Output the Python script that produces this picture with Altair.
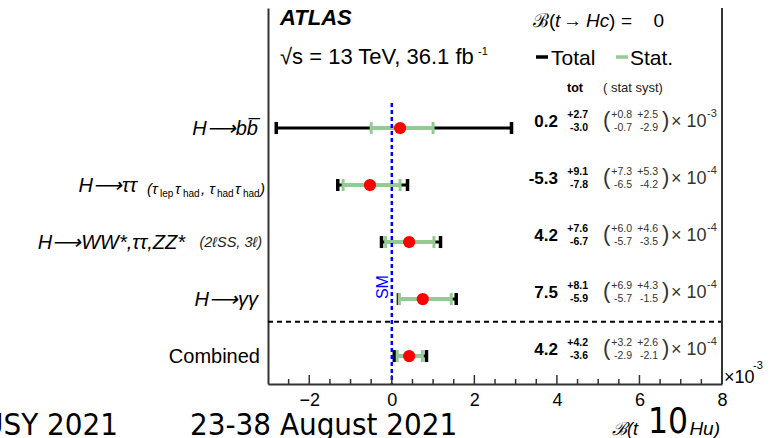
import altair as alt
import pandas as pd

# Measured B(t -> Hu) per channel: value and uncertainties in units of 10^exponent
channels = ["H->bb", "H->tautau", "H->WW,tautau,ZZ", "H->gammagamma", "Combined"]
central = [0.2, -5.3, 4.2, 7.5, 4.2]
tot_up = [2.7, 9.1, 7.6, 8.1, 4.2]
tot_dn = [3.0, 7.8, 6.7, 5.9, 3.6]
stat_up = [0.8, 7.3, 6.0, 6.9, 3.2]
stat_dn = [0.7, 6.5, 5.7, 5.7, 2.9]
syst_up = [2.5, 5.3, 4.6, 4.3, 2.6]
syst_dn = [2.9, 4.2, 3.5, 1.5, 2.1]
exponent = [-3, -4, -4, -4, -4]

# x axis in units of 10^-3
x_domain = [-3, 8]
x_major = [-2, 0, 2, 4, 6, 8]
x_minor = [-2.5, -1.5, -1, -0.5, 0.5, 1, 1.5, 2.5, 3, 3.5, 4.5, 5, 5.5, 6.5, 7, 7.5]
sm_prediction = [0.0]

# vertical layout in row units (row 0 at top), header space above row 0
y_domain = [-2.105, 4.49]
sm_line_top = -0.44
separator_row = 3.4
sm_label_row = 2.79

FONT = "Liberation Sans"
SLIDE_FONT = "DejaVu Sans Condensed, DejaVu Sans"
GREEN = "#94cb94"
FRAME = "#333333"
GREY = "#333333"
W, H = 454, 376
ARROW = "\u27f6"

rows = list(range(len(channels)))
k = [10.0 ** (e + 3) for e in exponent]
df = pd.DataFrame({
    "row": rows,
    "x": [c * s for c, s in zip(central, k)],
    "tot_lo": [(c - d) * s for c, d, s in zip(central, tot_dn, k)],
    "tot_hi": [(c + u) * s for c, u, s in zip(central, tot_up, k)],
    "stat_lo": [(c - d) * s for c, d, s in zip(central, stat_dn, k)],
    "stat_hi": [(c + u) * s for c, u, s in zip(central, stat_up, k)],
    "c_txt": [f"{c:.1f}" for c in central],
    "tu_txt": [f"+{v:.1f}" for v in tot_up],
    "td_txt": [f"-{v:.1f}" for v in tot_dn],
    "su_txt": [f"+{v:.1f}" for v in stat_up],
    "sd_txt": [f"-{v:.1f}" for v in stat_dn],
    "yu_txt": [f"+{v:.1f}" for v in syst_up],
    "yd_txt": [f"-{v:.1f}" for v in syst_dn],
    "exp_txt": [f"-{-e}" for e in exponent],
    "paren_l": ["("] * len(rows),
    "paren_r": [")"] * len(rows),
    "times": ["\u00d7 10"] * len(rows),
})

xs = alt.Scale(domain=x_domain, nice=False, zero=False)
ys = alt.Scale(domain=y_domain, reverse=True, nice=False, zero=False)
x_axis = alt.Axis(values=x_major, grid=False, ticks=False, tickSize=0, title=None,
                  labelFont=FONT, labelFontSize=18, labelColor="black",
                  labelBaseline="alphabetic", labelPadding=21, labelFlush=False,
                  labelOverlap=False, domainColor=FRAME, domainWidth=2)
y_axis = alt.Axis(labels=False, ticks=False, grid=False, title=None,
                  domainColor=FRAME, domainWidth=2)


def X(field):
    return alt.X(f"{field}:Q", scale=xs, axis=x_axis)


def Y(field):
    return alt.Y(f"{field}:Q", scale=ys, axis=y_axis)


base = alt.Chart(df)

# error bars: total (black) under statistical (green)
tot_bar = base.mark_rule(color="black", strokeWidth=3).encode(x=X("tot_lo"), x2="tot_hi", y=Y("row"))
tot_cap_lo = base.mark_tick(orient="vertical", color="black", size=12, thickness=3.5, opacity=1).encode(x=X("tot_lo"), y=Y("row"))
tot_cap_hi = base.mark_tick(orient="vertical", color="black", size=12, thickness=3.5, opacity=1).encode(x=X("tot_hi"), y=Y("row"))
stat_bar = base.mark_rule(color=GREEN, strokeWidth=4).encode(x=X("stat_lo"), x2="stat_hi", y=Y("row"))
stat_cap_lo = base.mark_tick(orient="vertical", color=GREEN, size=12, thickness=3, opacity=1).encode(x=X("stat_lo"), y=Y("row"))
stat_cap_hi = base.mark_tick(orient="vertical", color=GREEN, size=12, thickness=3, opacity=1).encode(x=X("stat_hi"), y=Y("row"))

sm_df = pd.DataFrame({"x": sm_prediction, "top": [sm_line_top], "bottom": [y_domain[1]],
                      "lab_row": [sm_label_row], "t": ["SM"]})
sm_line = alt.Chart(sm_df).mark_rule(color="blue", strokeWidth=2.5, strokeDash=[4, 3]).encode(
    x=X("x"), y=Y("top"), y2="bottom")
sm_text = alt.Chart(sm_df).mark_text(angle=270, color="blue", font=FONT, fontSize=16,
                                     baseline="alphabetic", align="center", dy=-4).encode(
    x=X("x"), y=Y("lab_row"), text="t:N")

points = base.mark_circle(color="red", size=150, opacity=1).encode(x=X("x"), y=Y("row"))

sep = alt.Chart(pd.DataFrame({"y": [separator_row]})).mark_rule(
    color="black", strokeWidth=2, strokeDash=[5, 4]).encode(
    y=Y("y"), x=alt.value(0), x2=alt.value(W))

# inward ticks along the bottom axis and the right-hand frame line
major_ticks = alt.Chart(pd.DataFrame({"t": x_major})).mark_rule(color=FRAME, strokeWidth=1.5).encode(
    x=X("t"), y=alt.value(H), y2=alt.value(H - 9))
minor_ticks = alt.Chart(pd.DataFrame({"t": x_minor})).mark_rule(color=FRAME, strokeWidth=1.5).encode(
    x=X("t"), y=alt.value(H), y2=alt.value(H - 5))
right_frame = alt.Chart(pd.DataFrame({"t": [0]})).mark_rule(color=FRAME, strokeWidth=2).encode(
    x=alt.value(W), y=alt.value(0), y2=alt.value(H))


def row_col(field, px, dy, align, size, weight="normal", color="black"):
    return base.mark_text(font=FONT, fontSize=size, fontWeight=weight, color=color,
                          align=align, baseline="alphabetic", dy=dy).encode(
        x=alt.value(px), y=Y("row"), text=f"{field}:N")


values = [
    row_col("c_txt", 290, -1, "right", 17, "bold"),
    row_col("tu_txt", 320, -10, "right", 10.5, "bold"),
    row_col("td_txt", 320, 3, "right", 10.5, "bold"),
    row_col("paren_l", 335, -1, "left", 22, color=GREY),
    row_col("su_txt", 364, -10, "right", 10.5, color=GREY),
    row_col("sd_txt", 364, 3, "right", 10.5, color=GREY),
    row_col("yu_txt", 390, -10, "right", 10.5, color=GREY),
    row_col("yd_txt", 390, 3, "right", 10.5, color=GREY),
    row_col("paren_r", 394, -1, "left", 22, color=GREY),
    row_col("times", 403, -1, "left", 18, color=GREY),
    row_col("exp_txt", 439, -11, "left", 11, color=GREY),
]


def row_labels(items, dy, align, size, style="italic", weight="normal", font=FONT, color="black"):
    d = pd.DataFrame(items, columns=["row", "t", "px"])
    return alt.Chart(d).mark_text(font=font, fontSize=size, fontStyle=style, fontWeight=weight,
                                  color=color, align=align, baseline="alphabetic", dy=dy).encode(
        x=alt.X("px:Q", scale=None, axis=None), y=Y("row"), text="t:N")


labels = [
    row_labels([(0, f"H{ARROW}bb\u0305", -10), (1, f"H{ARROW}\u03c4\u03c4", -131),
                (2, f"H{ARROW}WW*,\u03c4\u03c4,ZZ*", -83), (3, f"H{ARROW}\u03b3\u03b3", -10)],
               7, "right", 20),
    row_labels([(4, "Combined", -8)], 7, "right", 20, style="normal"),
    row_labels([(1, "(\u03c4", -121), (1, "\u03c4", -93), (1, ", \u03c4", -67),
                (1, "\u03c4", -33), (1, ")", -8)], 9, "left", 15),
    row_labels([(1, "lep", -108), (1, "had", -85), (1, "had", -51), (1, "had", -25)],
               12, "left", 10, style="normal"),
    row_labels([(2, "(2\u2113SS, 3\u2113)", -6)], 5, "right", 14.5, color="#222222"),
]


def pixel_text(items, align="left", size=18, style="normal", weight="normal",
               color="black", font=FONT):
    d = pd.DataFrame(items, columns=["t", "px", "py"])
    return alt.Chart(d).mark_text(font=font, fontSize=size, fontStyle=style, fontWeight=weight,
                                  color=color, align=align, baseline="alphabetic").encode(
        x=alt.X("px:Q", scale=None, axis=None), y=alt.Y("py:Q", scale=None, axis=None),
        text="t:N")


header = [
    pixel_text([("ATLAS", 12, 17)], size=22, style="italic", weight="bold"),
    pixel_text([("\u221as = 13 TeV, 36.1 fb", 12, 56)], size=22),
    pixel_text([("-1", 210, 47)], size=11),
    pixel_text([("\u212c(", 265, 19), ("\u2192", 295, 19), (")", 341, 19), ("=", 353, 19)], size=19),
    pixel_text([("0", 396, 19)], size=19, align="right"),
    pixel_text([("t", 287, 19), ("Hc", 318, 19)], size=19, style="italic"),
    pixel_text([("Total", 283, 57), ("Stat.", 362, 57)], size=21),
    pixel_text([("tot", 299, 84)], size=12.5, weight="bold"),
    pixel_text([("( stat syst)", 335, 84)], size=13, color="#222222"),
    pixel_text([("\u00d710", 456, 375)], size=18),
    pixel_text([("-3", 485, 361)], size=11),
    pixel_text([("\u212c(t", 344, 427)], size=18, style="italic"),
    pixel_text([("Hu)", 452, 427)], size=19, style="italic", align="right"),
]

legend_total = alt.Chart(pd.DataFrame({"t": [0]})).mark_rule(color="black", strokeWidth=3.5).encode(
    x=alt.value(268), x2=alt.value(280), y=alt.value(49))
legend_stat = alt.Chart(pd.DataFrame({"t": [0]})).mark_rule(color=GREEN, strokeWidth=3.5).encode(
    x=alt.value(348), x2=alt.value(360), y=alt.value(49))

slide = [
    pixel_text([("SUSY 2021", -150, 427)], align="right", size=31, font=SLIDE_FONT),
    pixel_text([("23-38 August 2021", -78, 427)], size=31, font=SLIDE_FONT),
    pixel_text([("10", 380, 425)], size=35, font=SLIDE_FONT),
]

chart = alt.layer(
    tot_bar, tot_cap_lo, tot_cap_hi, stat_bar, stat_cap_lo, stat_cap_hi,
    sep, sm_line, sm_text, points, major_ticks, minor_ticks, right_frame,
    legend_total, legend_stat,
    *values, *labels, *header, *slide,
).properties(
    width=W, height=H, autosize="none",
    padding={"left": 268, "top": 8, "right": 52, "bottom": 54},
).configure_view(stroke=None)

chart.save("out.html", embed_options={"renderer": "svg", "actions": False})
